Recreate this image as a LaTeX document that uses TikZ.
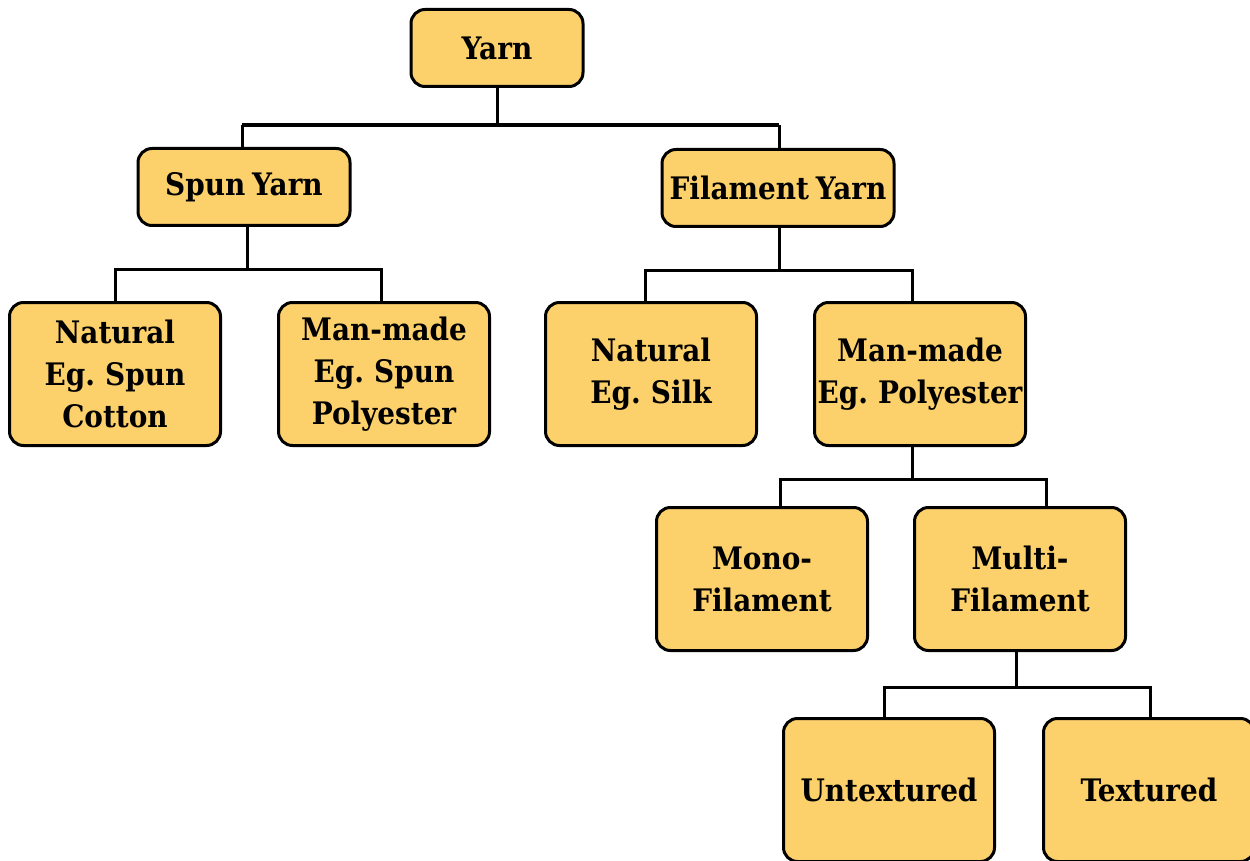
\documentclass[tikz,border=0pt]{standalone}
\usepackage{fontspec}
\newfontfamily\boxfont{DejaVu Serif Condensed}[WordSpace=0.7]
\definecolor{boxfill}{HTML}{FCD06A}
\begin{document}
\begin{tikzpicture}[x=1pt,y=-1pt,
  box/.style={draw=black, line width=3pt, fill=boxfill, rounded corners=14pt,
    align=center, inner sep=0pt, minimum width=211pt, minimum height=143pt,
    font=\boxfont\bfseries\fontsize{31}{42}\selectfont},
  small/.style={minimum height=77pt},
  link/.style={draw=black, line width=3pt, line join=miter}]
\useasboundingbox (0,0) rectangle (1250,861);

% top level
\node[box, small, minimum width=172pt] (yarn) at (497,48) {Yarn};
\node[box, small, minimum width=212pt] (spun) at (244,187) {Spun Yarn};
\node[box, small, minimum width=232pt] (fil) at (778,188) {Filament Yarn};

% second level
\node[box] (spnat) at (115,374) {Natural\\Eg. Spun\\Cotton};
\node[box] (spman) at (384,374) {Man-made\\Eg. Spun\\Polyester};
\node[box] (finat) at (651,374) {Natural\\Eg. Silk};
\node[box] (fiman) at (920,374) {Man-made\\Eg. Polyester};

% third level
\node[box] (mono) at (762,579) {Mono-\\Filament};
\node[box] (multi) at (1020,579) {Multi-\\Filament};

% fourth level
\node[box] (untex) at (889,790) {Untextured};
\node[box] (tex) at (1149,790) {Textured};

% connectors
\draw[link] (yarn.south) -- ++(0,37) coordinate (j1);
\draw[link, line width=4pt] ([xshift=-2pt]spun.north |- j1) -- ([xshift=1pt]fil.north |- j1);
\draw[link] ([xshift=-2pt]spun.north |- j1) -- ([xshift=-2pt]spun.north);
\draw[link] ([xshift=1pt]fil.north |- j1) -- ([xshift=1pt]fil.north);

\draw[link] ([xshift=3pt]spun.south) -- ++(0,42) coordinate (j2);
\draw[link] (j2) -| (spnat.north);
\draw[link] (j2) -| ([xshift=-3pt]spman.north);

\draw[link] ([xshift=1pt]fil.south) -- ++(0,42) coordinate (j3);
\draw[link] (j3) -| ([xshift=-6pt]finat.north);
\draw[link] (j3) -| ([xshift=-8pt]fiman.north);

\draw[link] ([xshift=-8pt]fiman.south) -- ++(0,32) coordinate (j4);
\draw[link] (j4) -| ([xshift=18pt]mono.north);
\draw[link] (j4) -| ([xshift=26pt]multi.north);

\draw[link] ([xshift=-4pt]multi.south) -- ++(0,35) coordinate (j5);
\draw[link] (j5) -| ([xshift=-5pt]untex.north);
\draw[link] (j5) -| ([xshift=1pt]tex.north);
\end{tikzpicture}
\end{document}
